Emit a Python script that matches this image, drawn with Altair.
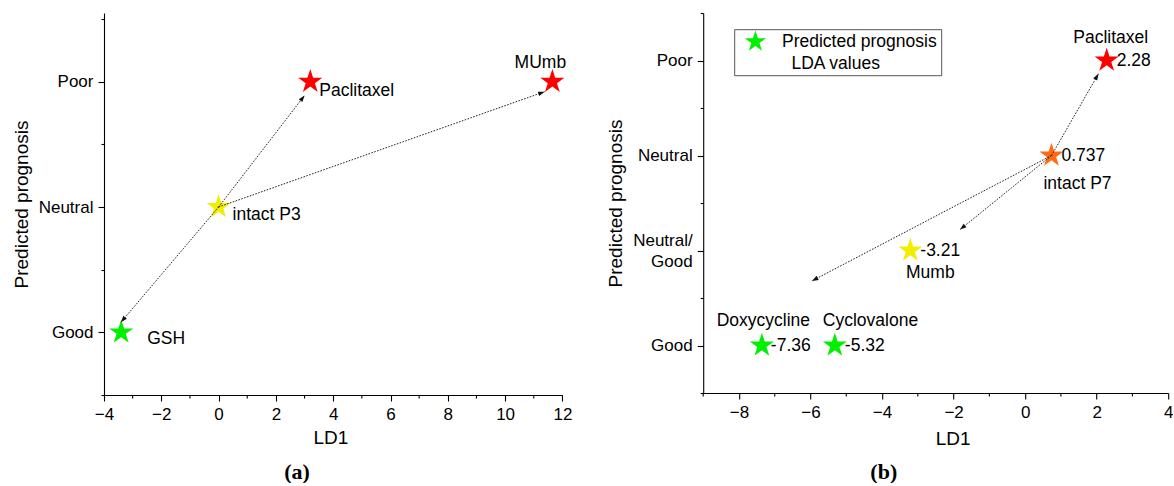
import json
import math

import altair as alt
import pandas as pd

FONT = "Liberation Sans"
SERIF = "Liberation Serif"

# five-pointed star and a small arrowhead (tip at the origin, pointing up)
STAR = ("M0,-1L0.2245,-0.309L0.9511,-0.309L0.3633,0.118L0.5878,0.809L0,0.382"
        "L-0.5878,0.809L-0.3633,0.118L-0.9511,-0.309L-0.2245,-0.309Z")
HEAD = "M0,0L0.36,1L-0.36,1Z"

RED, GREEN, YELLOW, ORANGE = "#ff0000", "#00f000", "#f2ee00", "#ff6a13"

# ---------------- panel (a) ----------------
a_names = ["Paclitaxel", "MUmb", "intact P3", "GSH"]
a_ld1 = [3.2, 11.65, 0.0, -3.4]
a_level = [3, 3, 2, 1]
a_colors = [RED, RED, YELLOW, GREEN]
a_levels = ["Good", "Neutral", "Poor"]
a_xticks = [-4, -2, 0, 2, 4, 6, 8, 10, 12]

a_arrow_from_ld1 = [0.0, 0.0, 0.0]
a_arrow_from_level = [2, 2, 2]
a_arrow_to_ld1 = [3.0, 11.38, -3.41]
a_arrow_to_level = [2.89, 2.92, 1.08]

# ---------------- panel (b) ----------------
b_names = ["Paclitaxel", "intact P7", "Mumb", "Doxycycline", "Cyclovalone"]
b_ld1 = [2.28, 0.737, -3.21, -7.36, -5.32]
b_level = [4, 3, 2, 1, 1]
b_colors = [RED, ORANGE, YELLOW, GREEN, GREEN]
b_levels = ["Good", "Neutral/\nGood", "Neutral", "Poor"]
b_xticks = [-8, -6, -4, -2, 0, 2, 4]

b_arrow_from_ld1 = [0.737, 0.737, 0.737]
b_arrow_from_level = [3, 3, 3]
b_arrow_to_ld1 = [2.05, -1.82, -5.96]
b_arrow_to_level = [3.86, 2.22, 1.68]

legend_lines = ["Predicted prognosis", "LDA values"]


def level_label_expr(levels):
    expr = "''"
    for i, name in reversed(list(enumerate(levels, start=1))):
        lines = name.split("\n")
        lit = json.dumps(lines) if len(lines) > 1 else json.dumps(name)
        expr = f"datum.value === {i} ? {lit} : ({expr})"
    return expr


def two_line_offset(levels):
    # shift wrapped labels up so both lines sit around their tick
    tests = [f"datum.value === {i}" for i, n in enumerate(levels, start=1) if "\n" in n]
    if not tests:
        return 0
    return {"condition": {"test": " || ".join(tests), "value": -10.5}, "value": 0}


def points_frame(names, ld1, level, colors):
    return pd.DataFrame({
        "name": names,
        "ld1": ld1,
        "level": level,
        "color": colors,
        "value": [str(v) for v in ld1],
    })


def arrows_frame(x0, y0, x1, y1, xdom, ydom, W, H):
    kx = W / (xdom[1] - xdom[0])
    ky = H / (ydom[1] - ydom[0])
    angles = []
    for a, b, c, d in zip(x0, y0, x1, y1):
        dx = (c - a) * kx
        dy = -(d - b) * ky
        angles.append(math.degrees(math.atan2(dx, -dy)) % 360)
    return pd.DataFrame({"ld1": x0, "level": y0, "ld1_end": x1,
                         "level_end": y1, "angle": angles})


def panel(points, arrows, xdom, ydom, W, H, xticks, levels,
          x_title_pos, labels, caption, caption_dx, extra_layers=()):
    # minor x ticks sit halfway between the labelled ones
    step = xticks[1] - xticks[0]
    xminor = [t + step / 2 for t in xticks[:-1]]
    if xticks[0] - step / 2 >= xdom[0]:
        xminor.insert(0, xticks[0] - step / 2)
    yvals = [0.5 + 0.5 * i for i in range(int(round((ydom[1] - 0.5) / 0.5)) + 1)]
    yvals = [v for v in yvals if v <= ydom[1]]

    xscale = alt.Scale(domain=xdom, nice=False, zero=False)
    yscale = alt.Scale(domain=ydom, nice=False, zero=False)

    x_axis = alt.Axis(
        title="LD1", values=xticks, tickSize=6,
        labelFlush=False, labelOverlap=False, grid=False,
        titleX=x_title_pos[0], titleY=x_title_pos[1], titleBaseline="middle",
    )
    y_axis = alt.Axis(
        title="Predicted prognosis", values=yvals,
        labelExpr=level_label_expr(levels),
        labelOffset=two_line_offset(levels),
        tickSize={"condition": {"test": "datum.value % 1 !== 0", "value": 3}, "value": 6},
        labelOverlap=False, grid=False, labelLineHeight=21,
    )

    def X(field):
        return alt.X(f"{field}:Q", scale=xscale, axis=x_axis, title="LD1")

    def Y(field):
        return alt.Y(f"{field}:Q", scale=yscale, axis=y_axis, title="Predicted prognosis")

    stars = alt.Chart(points).mark_point(
        shape=STAR, size=640, filled=True, opacity=1, strokeWidth=0
    ).encode(x=X("ld1"), y=Y("level"), color=alt.Color("color:N", scale=None))

    minor = alt.Chart(pd.DataFrame({"ld1": xminor})).mark_rule(
        color="black", strokeWidth=1.1
    ).encode(x=X("ld1"), y=alt.value(H), y2=alt.value(H + 3.5))

    rules = alt.Chart(arrows).mark_rule(
        color="#222", strokeWidth=1, strokeDash=[1.6, 1.4]
    ).encode(x=X("ld1"), y=Y("level"), x2="ld1_end:Q", y2="level_end:Q")

    heads = alt.Chart(arrows).mark_point(
        shape=HEAD, size=169, filled=True, color="#111", opacity=1, strokeWidth=0
    ).encode(x=X("ld1_end"), y=Y("level_end"), angle=alt.Angle("angle:Q", scale=None))

    layers = [stars, minor, rules, heads]
    for name, field, align, dx, dy in labels:
        layers.append(
            alt.Chart(points).transform_filter(alt.datum.name == name).mark_text(
                align=align, baseline="middle", dx=dx, dy=dy,
                font=FONT, fontSize=17.5, color="black",
            ).encode(x=X("ld1"), y=Y("level"), text=f"{field}:N")
        )
    layers.extend(extra_layers)

    return alt.layer(*layers).properties(
        width=W, height=H,
        title=alt.TitleParams(
            caption, orient="bottom", anchor="middle", frame="bounds", dx=caption_dx,
            font=SERIF, fontSize=22, fontWeight="bold", color="black", offset=14,
        ),
    )


# ---- panel (a) ----
A_W, A_H = 458.4, 382
A_XDOM, A_YDOM = [-4, 12], [0.5, 3.548]
a_points = points_frame(a_names, a_ld1, a_level, a_colors)
a_arrows = arrows_frame(a_arrow_from_ld1, a_arrow_from_level, a_arrow_to_ld1,
                        a_arrow_to_level, A_XDOM, A_YDOM, A_W, A_H)
left = panel(
    a_points, a_arrows, A_XDOM, A_YDOM, A_W, A_H, a_xticks, a_levels, (226.4, 42.5),
    [
        ("Paclitaxel", "name", "left", 9, 9),
        ("MUmb", "name", "center", -12, -19),
        ("intact P3", "name", "left", 14, 8),
        ("GSH", "name", "left", 26, 7),
    ],
    "(a)", 5,
)

# ---- panel (b) ----
B_W, B_H = 465.0, 380
B_XDOM, B_YDOM = [-9, 4], [0.5, 4.5]
b_points = points_frame(b_names, b_ld1, b_level, b_colors)
b_arrows = arrows_frame(b_arrow_from_ld1, b_arrow_from_level, b_arrow_to_ld1,
                        b_arrow_to_level, B_XDOM, B_YDOM, B_W, B_H)

legend_df = pd.DataFrame({"line": legend_lines})
legend_box = alt.Chart(legend_df).transform_filter(
    alt.datum.line == legend_lines[0]
).mark_rect(fill="white", stroke="#555", strokeWidth=1).encode(
    x=alt.value(31.5), x2=alt.value(238.5), y=alt.value(16.7), y2=alt.value(62.7)
)
legend_star = alt.Chart(legend_df).transform_filter(
    alt.datum.line == legend_lines[0]
).mark_point(shape=STAR, size=500, filled=True, color=GREEN, opacity=1, strokeWidth=0).encode(
    x=alt.value(52.2), y=alt.value(28.8)
)
legend_text1 = alt.Chart(legend_df).transform_filter(
    alt.datum.line == legend_lines[0]
).mark_text(align="left", baseline="middle", font=FONT, fontSize=17.5, color="black").encode(
    x=alt.value(78.8), y=alt.value(29.3), text="line:N"
)
legend_text2 = alt.Chart(legend_df).transform_filter(
    alt.datum.line == legend_lines[1]
).mark_text(align="left", baseline="middle", font=FONT, fontSize=17.5, color="black").encode(
    x=alt.value(88.2), y=alt.value(51), text="line:N"
)

right = panel(
    b_points, b_arrows, B_XDOM, B_YDOM, B_W, B_H, b_xticks, b_levels, (249.5, 45),
    [
        ("Paclitaxel", "name", "center", 4, -23),
        ("Paclitaxel", "value", "left", 10, 0),
        ("intact P7", "value", "left", 10, 0),
        ("intact P7", "name", "center", 26, 28),
        ("Mumb", "value", "left", 10, 0),
        ("Mumb", "name", "center", 20, 22),
        ("Doxycycline", "value", "left", 9, 0),
        ("Doxycycline", "name", "center", 1.5, -25),
        ("Cyclovalone", "value", "left", 10, 0),
        ("Cyclovalone", "name", "left", -12, -25),
    ],
    "(b)", -6,
    extra_layers=(legend_box, legend_star, legend_text1, legend_text2),
)

chart = alt.hconcat(left, right, spacing=140.2, bounds="flush").properties(
    padding={"left": 12, "top": 4, "right": 0, "bottom": 0},
    background="white",
).configure_view(stroke=None).configure_axis(
    domainColor="black", domainWidth=1.1, tickColor="black", tickWidth=1.1,
    labelFont=FONT, labelFontSize=17, labelColor="black", labelPadding=5,
    titleFont=FONT, titleFontSize=19, titleFontWeight="normal", titleColor="black",
    titlePadding=7,
)

chart.save("out.html", embed_options={"renderer": "svg", "actions": False})
